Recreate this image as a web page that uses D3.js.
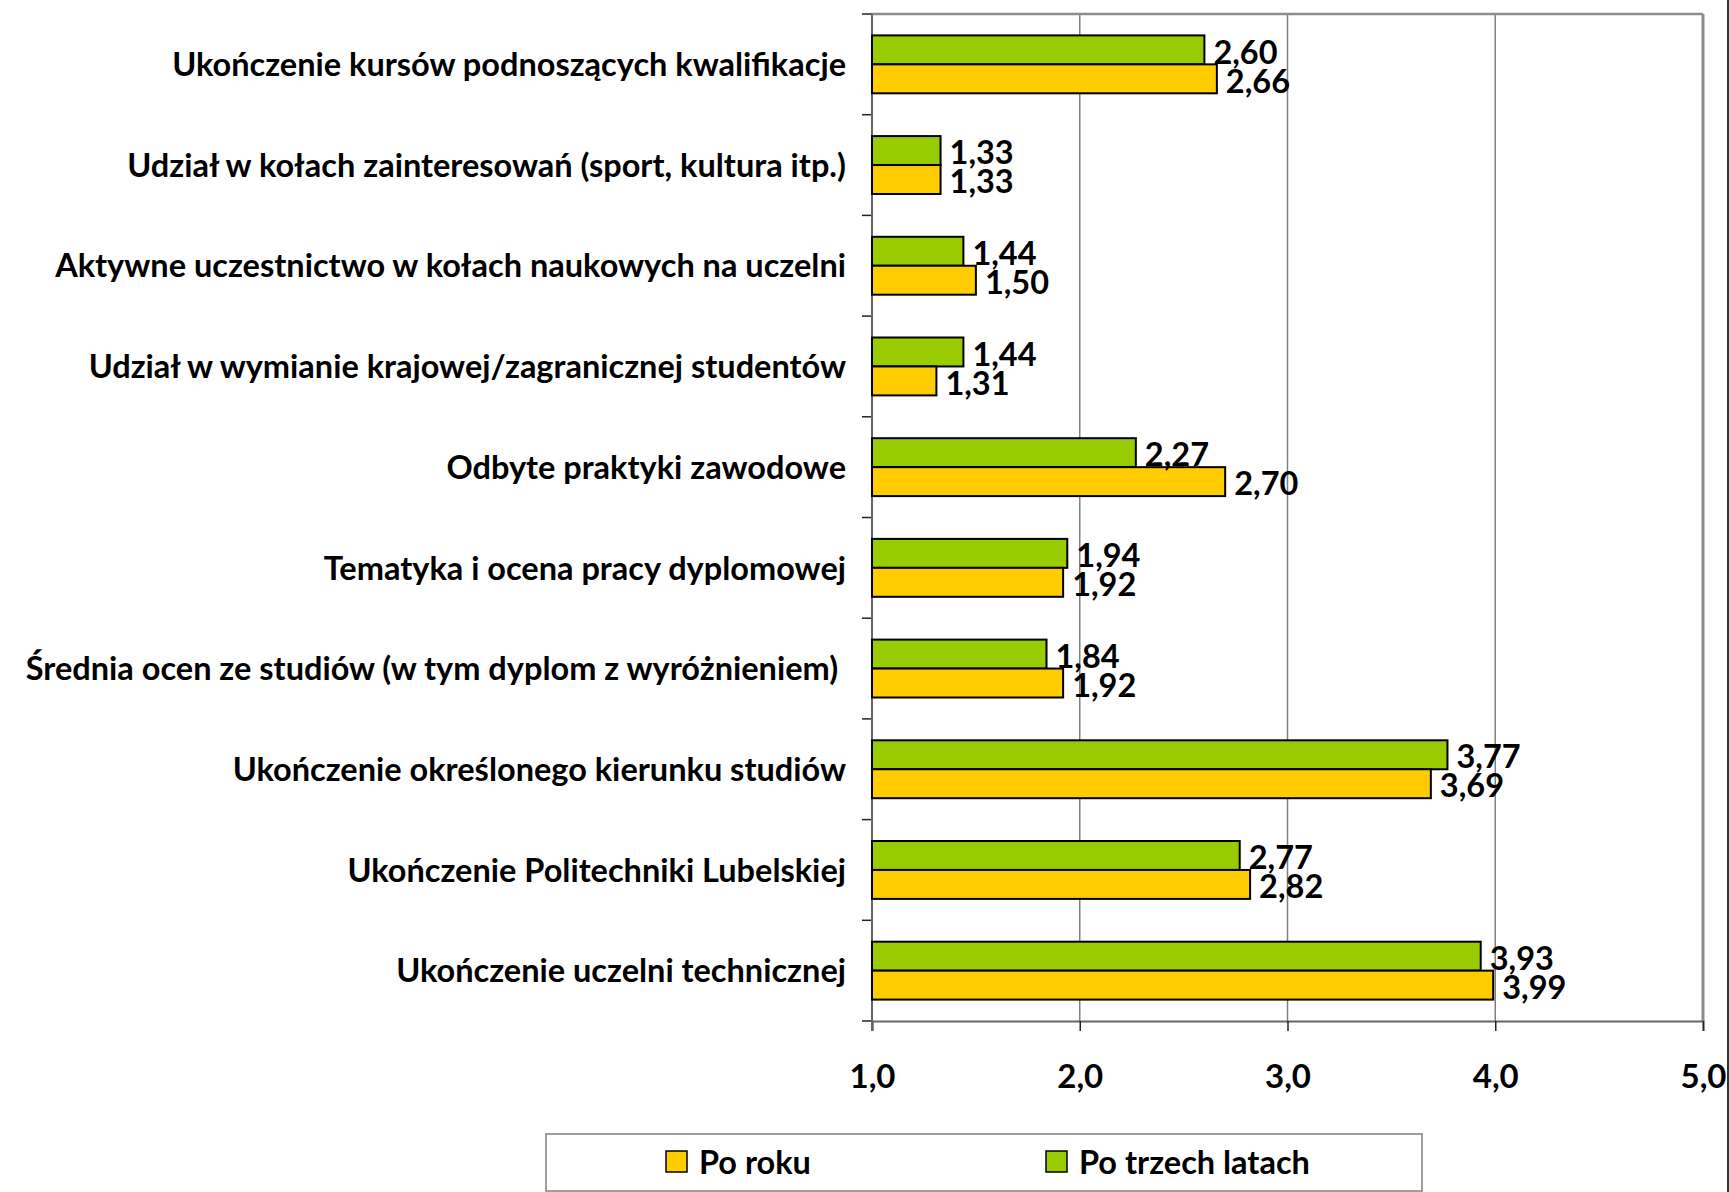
<!DOCTYPE html>
<html>
<head>
<meta charset="utf-8">
<script src="https://cdn.jsdelivr.net/npm/d3@7"></script>
<style>
	body { margin: 0; background: #fff; }
	svg text { font-family: Lato, "Open Sans", sans-serif; font-weight: bold; fill: #000; }
</style>
</head>
<body>
<svg id="chart" width="1729" height="1192"></svg>
<script>
const categories = [
	'Ukończenie kursów podnoszących kwalifikacje',
	'Udział w kołach zainteresowań (sport, kultura itp.)',
	'Aktywne uczestnictwo w kołach naukowych na uczelni',
	'Udział w wymianie krajowej/zagranicznej studentów',
	'Odbyte praktyki zawodowe',
	'Tematyka i ocena pracy dyplomowej',
	'Średnia ocen ze studiów (w tym dyplom z wyróżnieniem) ',
	'Ukończenie określonego kierunku studiów',
	'Ukończenie Politechniki Lubelskiej',
	'Ukończenie uczelni technicznej'
];
const poRoku = [2.66, 1.33, 1.50, 1.31, 2.70, 1.92, 1.92, 3.69, 2.82, 3.99];
const poTrzechLatach = [2.60, 1.33, 1.44, 1.44, 2.27, 1.94, 1.84, 3.77, 2.77, 3.93];
const xTicks = [1, 2, 3, 4, 5];
const seriesNames = ['Po roku', 'Po trzech latach'];

const colors = {'Po roku': '#FFCC00', 'Po trzech latach': '#99CC00'};
const fmt = d => d.toFixed(2).replace('.', ',');

const W = 1729;
const plotLeft = 872, plotRight = 1703, plotTop = 14, plotBottom = 1021;
const fontSize = '32.5px';

const svg = d3.select('#chart');

// X axis
let x = d3.scaleLinear()
	.domain([1, 5])
	.range([plotLeft, plotRight]);

// Y axis
let y = d3.scaleBand()
	.domain(categories)
	.range([plotTop, plotBottom])
	.paddingInner(0.425)
	.paddingOuter(0.2125);

// green on top, yellow below
let ySub = d3.scaleBand()
	.domain(['Po trzech latach', 'Po roku'])
	.range([0, y.bandwidth()]);

// grid
svg.append('g')
	.selectAll('line')
	.data(xTicks.slice(1, -1))
	.join('line')
	.attr('x1', d => x(d)).attr('x2', d => x(d))
	.attr('y1', plotTop).attr('y2', plotBottom)
	.attr('stroke', '#808080')
	.attr('stroke-width', 1.5);

// top and right border
svg.append('line')
	.attr('x1', plotLeft).attr('x2', plotRight)
	.attr('y1', plotTop).attr('y2', plotTop)
	.attr('stroke', '#8c8c8c').attr('stroke-width', 2.5);
svg.append('line')
	.attr('x1', plotRight).attr('x2', plotRight)
	.attr('y1', plotTop).attr('y2', plotBottom)
	.attr('stroke', '#8c8c8c').attr('stroke-width', 3);

// bottom axis
let xAxis = d3.axisBottom(x)
	.tickValues(xTicks)
	.tickFormat(d => d.toFixed(1).replace('.', ','))
	.tickSize(10)
	.tickPadding(34);

let gx = svg.append('g')
	.attr('transform', `translate(0,${plotBottom})`)
	.call(xAxis);
gx.select('.domain').attr('stroke', '#666').attr('stroke-width', 2);
gx.selectAll('.tick line').attr('stroke', '#222').attr('stroke-width', 1.5);
gx.selectAll('text')
	.style('font-size', '33px')
	.style('font-family', 'Lato, sans-serif')
	.style('font-weight', 'bold');

// left axis: ticks between categories
let boundaries = categories.map(c => y(c) - y.step() * y.paddingInner() / 2);
boundaries.push(plotBottom);

svg.append('g')
	.selectAll('line')
	.data(boundaries)
	.join('line')
	.attr('x1', plotLeft - 10).attr('x2', plotLeft)
	.attr('y1', d => d).attr('y2', d => d)
	.attr('stroke', '#222')
	.attr('stroke-width', 1.5);

svg.append('line')
	.attr('x1', plotLeft).attr('x2', plotLeft)
	.attr('y1', plotTop).attr('y2', plotBottom + 10)
	.attr('stroke', '#666').attr('stroke-width', 2);

// category labels
svg.append('g')
	.selectAll('text')
	.data(categories)
	.join('text')
	.attr('x', plotLeft - 26)
	.attr('y', d => y(d) + y.bandwidth() / 2)
	.attr('dy', '0.36em')
	.attr('text-anchor', 'end')
	.style('font-size', fontSize)
	.style('white-space', 'pre')
	.text(d => d);

// bars
let rows = categories.map((c, i) => ({
	cat: c,
	values: [
		{name: 'Po trzech latach', value: poTrzechLatach[i]},
		{name: 'Po roku', value: poRoku[i]}
	]
}));

let groups = svg.append('g')
	.selectAll('g')
	.data(rows)
	.join('g')
	.attr('transform', d => `translate(0,${y(d.cat)})`);

groups.selectAll('rect')
	.data(d => d.values)
	.join('rect')
	.attr('x', x(1))
	.attr('y', d => ySub(d.name))
	.attr('width', d => x(d.value) - x(1))
	.attr('height', ySub.bandwidth())
	.attr('fill', d => colors[d.name])
	.attr('stroke', '#000')
	.attr('stroke-width', 2);

groups.selectAll('text')
	.data(d => d.values)
	.join('text')
	.attr('x', d => x(d.value) + 9)
	.attr('y', d => ySub(d.name) + ySub.bandwidth() / 2 + 2)
	.attr('dy', '0.36em')
	.style('font-size', fontSize)
	.text(d => fmt(d.value));

// legend
let legend = svg.append('g');
legend.append('rect')
	.attr('x', 546).attr('y', 1134)
	.attr('width', 876).attr('height', 57)
	.attr('fill', '#fff')
	.attr('stroke', '#808080')
	.attr('stroke-width', 1.5);

let legendX = d3.scalePoint()
	.domain(seriesNames)
	.range([666, 1046]);

let items = legend.selectAll('g')
	.data(seriesNames)
	.join('g')
	.attr('transform', d => `translate(${legendX(d)},1151)`);

items.append('rect')
	.attr('width', 21).attr('height', 21)
	.attr('fill', d => colors[d])
	.attr('stroke', '#000')
	.attr('stroke-width', 1.5);

items.append('text')
	.attr('x', 33)
	.attr('y', 11)
	.attr('dy', '0.36em')
	.style('font-size', fontSize)
	.text(d => d);

// page edge on the right
svg.append('line')
	.attr('x1', W - 1).attr('x2', W - 1)
	.attr('y1', 0).attr('y2', 1192)
	.attr('stroke', '#333').attr('stroke-width', 2);
</script>
</body>
</html>
